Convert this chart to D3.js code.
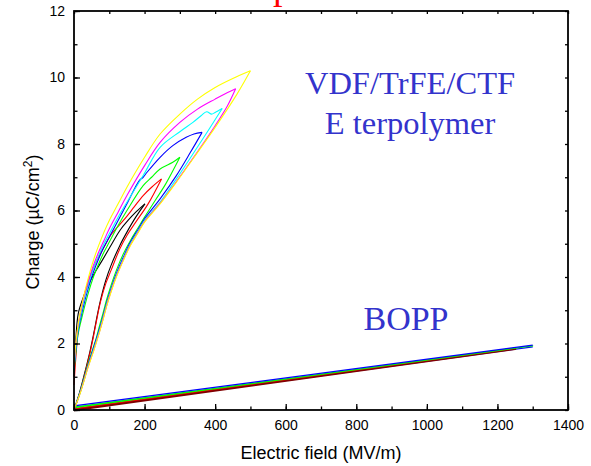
<!DOCTYPE html>
<html><head><meta charset="utf-8">
<script src="https://cdn.jsdelivr.net/npm/d3@7"></script>
<style>html,body{margin:0;padding:0;background:#fff;overflow:hidden}</style>
</head><body>
<svg id="c" width="591" height="466"></svg>
<script>
// ---------- data (E in MV/m, P in µC/cm²) ----------
const xTicks = [0,200,400,600,800,1000,1200,1400];
const yTicks = [0,2,4,6,8,10,12];

const blackLower = [[0,0],[15,0.5],[30,1.1],[45,1.75],[55,2.25],[65,2.8],[75,3.3],[90,3.9],[105,4.35],[130,4.95],[150,5.35],[175,5.8],[201,6.2]];
const blackUpper = [[201,6.2],[175,5.95],[153,5.7],[130,5.4],[102,4.9],[80,4.5],[60,4.15],[40,3.75],[25,3.35],[12,2.9],[5,2.1],[0,1.0]];

const redLower = [[0,0],[15,0.45],[30,1.05],[45,1.7],[55,2.2],[65,2.75],[75,3.25],[90,3.8],[105,4.2],[130,4.85],[150,5.25],[175,5.65],[210,6.2],[248,6.95]];
const redUpper = [[248,6.95],[220,6.7],[196,6.45],[170,6.1],[140,5.7],[107,5.3],[85,4.9],[65,4.5],[45,4.0],[30,3.5],[18,2.9],[10,2.2],[4,1.4],[0,0.75]];

const greenLower = [[0,0],[20,0.65],[40,1.4],[55,1.9],[64,2.2],[74,2.6],[82,2.9],[92,3.3],[105,3.75],[120,4.2],[140,4.7],[160,5.1],[180,5.45],[200,5.8],[230,6.3],[260,6.8],[300,7.6]];
const greenUpper = [[300,7.6],[280,7.45],[244,7.25],[220,7.0],[196,6.75],[150,6.0],[125,5.55],[100,5.05],[85,4.75],[70,4.4],[55,4.0],[40,3.5],[25,2.9],[12,2.3],[5,1.7],[0,1.15]];

const blueLower = [[0,0],[20,0.62],[40,1.35],[55,1.85],[64,2.15],[74,2.5],[82,2.8],[92,3.2],[105,3.65],[120,4.1],[140,4.6],[160,5.05],[180,5.4],[200,5.75],[244,6.35],[290,7.05],[330,7.75],[363,8.35]];
const blueUpper = [[363,8.35],[340,8.3],[318,8.2],[280,7.95],[244,7.6],[207,7.15],[196,7.0],[185,6.9],[150,6.2],[125,5.7],[100,5.2],[85,4.9],[70,4.55],[55,4.15],[40,3.65],[25,3.05],[12,2.4],[5,1.8],[0,1.2]];

const cyanLower = [[0,0],[20,0.6],[40,1.32],[55,1.8],[64,2.1],[74,2.45],[82,2.75],[92,3.15],[105,3.6],[120,4.05],[140,4.55],[160,5.0],[180,5.35],[200,5.7],[244,6.25],[290,6.95],[337,7.7],[380,8.4],[420,9.07]];
const cyanUpper = [[420,9.07],[400,8.95],[390,8.9],[376,8.97],[360,8.85],[337,8.65],[300,8.37],[244,7.9],[196,7.05],[150,6.25],[125,5.8],[100,5.3],[85,5.0],[70,4.65],[55,4.25],[40,3.75],[25,3.15],[12,2.45],[5,1.85],[0,1.25]];

const magentaLower = [[0,0],[20,0.6],[40,1.3],[55,1.77],[64,2.07],[74,2.42],[82,2.72],[92,3.12],[105,3.57],[120,4.02],[140,4.52],[160,4.97],[180,5.32],[200,5.67],[244,6.22],[290,6.87],[337,7.57],[400,8.55],[435,9.15],[458,9.66]];
const magentaUpper = [[458,9.66],[430,9.52],[400,9.35],[350,9.05],[300,8.65],[244,8.05],[200,7.35],[150,6.45],[125,5.95],[100,5.45],[85,5.1],[70,4.75],[55,4.35],[40,3.85],[25,3.25],[12,2.55],[5,1.95],[0,1.3]];

const yellowLower = [[0,0],[20,0.58],[40,1.28],[55,1.75],[64,2.05],[74,2.4],[82,2.7],[92,3.1],[105,3.55],[120,4.0],[140,4.5],[160,4.95],[180,5.3],[200,5.65],[244,6.2],[290,6.85],[337,7.55],[400,8.5],[462,9.5],[500,10.2]];
const yellowUpper = [[500,10.2],[450,9.97],[400,9.7],[350,9.35],[300,8.9],[244,8.3],[200,7.6],[150,6.7],[125,6.2],[100,5.7],[85,5.35],[70,4.95],[55,4.5],[40,3.95],[25,3.3],[12,2.6],[5,2.0],[0,1.35]];

const boppBlueLower = [[0,0.01],[1300,1.9]];
const boppBlueUpper = [[1300,1.95],[5,0.13]];
const boppWine = [[0,0],[1250,1.84],[0,0.02]];
const boppRed = [[0,0.04],[1250,1.86]];
const boppGreen = [[0,0.07],[1300,1.93],[0,0.09]];

const loops = [
  ["#000000", blackLower, blackUpper],
  ["#ff0000", redLower, redUpper],
  ["#00ff00", greenLower, greenUpper],
  ["#0000ff", blueLower, blueUpper],
  ["#00ffff", cyanLower, cyanUpper],
  ["#ff00ff", magentaLower, magentaUpper],
  ["#ffff00", yellowLower, yellowUpper]
];
const bopp = [
  ["#0000ff", boppBlueLower, 1.2],
  ["#800000", boppWine, 2.4],
  ["#ff0000", boppRed, 1.1],
  ["#00ff00", boppGreen, 1.2],
  ["#0000ff", boppBlueUpper, 1.3]
];

// ---------- drawing ----------
const svg = d3.select("#c");
const L = 74, R = 568, T = 11, B = 410;
const x = d3.scaleLinear().domain([0,1400]).range([L,R]);
const y = d3.scaleLinear().domain([0,12]).range([B,T]);
const line = d3.line().x(d => x(d[0])).y(d => y(d[1]));
const curve = d3.line().x(d => x(d[0])).y(d => y(d[1])).curve(d3.curveCatmullRom.alpha(0.5));

// red title fragment (clipped at top in the reference)
svg.append("text").attr("x", 273).attr("y", -1)
  .attr("font-family","Liberation Serif, Times New Roman, serif")
  .attr("font-size", 38).attr("fill","#ff0000").text("p");

// BOPP
bopp.forEach(([c, d, w]) => {
  svg.append("path").attr("d", line(d)).attr("fill","none")
    .attr("stroke", c).attr("stroke-width", w).attr("stroke-linejoin","round");
});
// terpolymer loops
loops.forEach(([c, lo, up]) => {
  [lo, up].forEach(br => {
    svg.append("path").attr("d", curve(br)).attr("fill","none")
      .attr("stroke", c).attr("stroke-width", 1.1).attr("stroke-linejoin","round");
  });
});

// frame
svg.append("rect").attr("x", L).attr("y", T).attr("width", R-L).attr("height", B-T)
  .attr("fill","none").attr("stroke","#000").attr("stroke-width",1.8);

// axes with inward ticks
const fontAxis = "Liberation Sans, Arial, sans-serif";
const xMinor = d3.range(0,1401,100);
const yMinor = d3.range(0,13,1);
const gx = svg.append("g").attr("transform",`translate(0,${B})`)
  .call(d3.axisBottom(x).tickValues(xTicks).tickSize(-6).tickPadding(10).tickFormat(d3.format("d")));
const gxm = svg.append("g").attr("transform",`translate(0,${B})`)
  .call(d3.axisBottom(x).tickValues(xMinor).tickSize(-3.5).tickFormat(""));
const gxt = svg.append("g").attr("transform",`translate(0,${T})`)
  .call(d3.axisTop(x).tickValues(xMinor).tickSize(-3).tickFormat(""));
const gy = svg.append("g").attr("transform",`translate(${L},0)`)
  .call(d3.axisLeft(y).tickValues(yTicks).tickSize(-6).tickPadding(9).tickFormat(d3.format("d")));
const gym = svg.append("g").attr("transform",`translate(${L},0)`)
  .call(d3.axisLeft(y).tickValues(yMinor).tickSize(-3.5).tickFormat(""));
const gyr = svg.append("g").attr("transform",`translate(${R},0)`)
  .call(d3.axisRight(y).tickValues(yMinor).tickSize(-3).tickFormat(""));
[gx,gxm,gxt,gy,gym,gyr].forEach(g => {
  g.select(".domain").remove();
  g.selectAll(".tick line").attr("stroke","#000").attr("stroke-width",1.3);
  g.selectAll("text").attr("font-family", fontAxis).attr("font-size", 14).attr("fill","#000");
});

// axis titles
svg.append("text").attr("x", 321).attr("y", 459).attr("text-anchor","middle")
  .attr("font-family", fontAxis).attr("font-size", 18).text("Electric field (MV/m)");
const yt = svg.append("text").attr("transform","translate(39,222) rotate(-90)")
  .attr("text-anchor","middle").attr("font-family", fontAxis).attr("font-size", 18);
yt.append("tspan").text("Charge (\u00B5C/cm");
yt.append("tspan").attr("font-size", 12).attr("dy", -7).text("2");
yt.append("tspan").attr("dy", 7).text(")");

// annotations
const serif = "Liberation Serif, Times New Roman, serif";
svg.append("text").attr("x", 410).attr("y", 94).attr("text-anchor","middle")
  .attr("font-family", serif).attr("font-size", 32.5).attr("fill","#3333cc").text("VDF/TrFE/CTF");
svg.append("text").attr("x", 410).attr("y", 134).attr("text-anchor","middle")
  .attr("font-family", serif).attr("font-size", 32.5).attr("fill","#3333cc").text("E terpolymer");
svg.append("text").attr("x", 406).attr("y", 330).attr("text-anchor","middle")
  .attr("font-family", serif).attr("font-size", 34).attr("fill","#3333cc").text("BOPP");
</script>
</body></html>
